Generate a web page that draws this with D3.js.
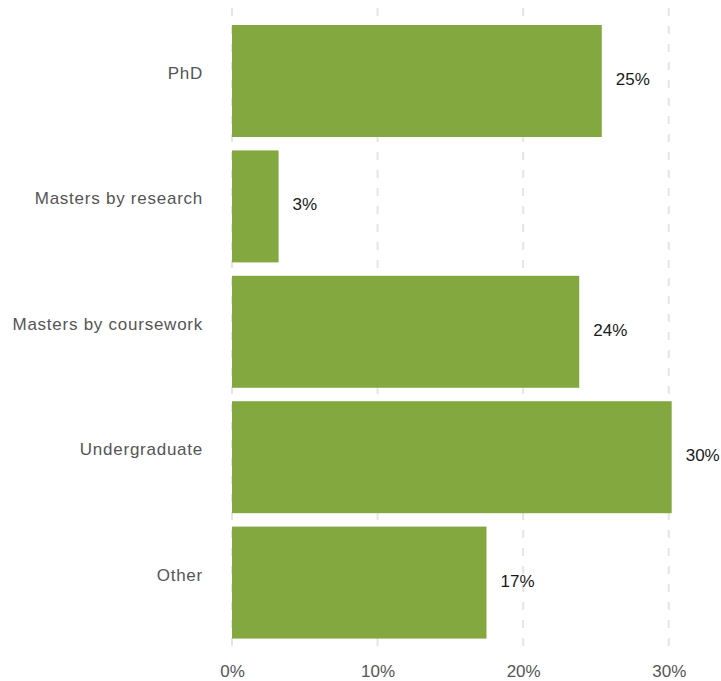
<!DOCTYPE html>
<html>
<head>
<meta charset="utf-8">
<script src="https://cdn.jsdelivr.net/npm/d3@7/dist/d3.min.js"></script>
<style>
  html, body { margin: 0; padding: 0; background: #fff; }
  svg { display: block; font-family: "Liberation Sans", Arial, Helvetica, sans-serif; }
</style>
</head>
<body>
<svg id="chart" width="721" height="681"></svg>
<script>
// Share of respondents by highest qualification level
const categories = ["PhD", "Masters by research", "Masters by coursework", "Undergraduate", "Other"];
const shares = [0.254, 0.032, 0.2385, 0.302, 0.1748];
const tickValues = [0, 0.1, 0.2, 0.3];

const svg = d3.select("#chart");
const left = 232, right = 727;

const x = d3.scaleLinear().domain([0, 0.34]).range([left, right]);
const y = d3.scaleBand().domain(categories).range([11.6, 652]).paddingInner(0.107).paddingOuter(0.107);

const pct = d3.format(".0%");

// Dashed vertical gridlines
svg.append("g")
  .selectAll("line")
  .data(tickValues)
  .join("line")
  .attr("x1", d => x(d)).attr("x2", d => x(d))
  .attr("y1", 8).attr("y2", 652)
  .attr("stroke", "#e5e5e5")
  .attr("stroke-width", 2)
  .attr("stroke-dasharray", "8,10");

// Bars
svg.append("g")
  .selectAll("rect")
  .data(categories)
  .join("rect")
  .attr("x", x(0))
  .attr("y", d => y(d))
  .attr("width", (d, i) => x(shares[i]) - x(0))
  .attr("height", y.bandwidth())
  .attr("fill", "#83a840");

// Value labels
svg.append("g")
  .selectAll("text")
  .data(categories)
  .join("text")
  .attr("x", (d, i) => x(shares[i]) + 14)
  .attr("y", d => y(d) + y.bandwidth() / 2 - 2)
  .attr("dy", "0.35em")
  .attr("font-size", 17)
  .attr("fill", "#1a1a1a")
  .text((d, i) => pct(shares[i]));

// Category axis
const yAxis = svg.append("g")
  .attr("transform", `translate(${left},0)`)
  .call(d3.axisLeft(y).tickSize(0).tickPadding(29));
yAxis.select(".domain").remove();
yAxis.selectAll("text")
  .attr("dy", "-0.12em")
  .attr("font-size", 17)
  .attr("font-family", "'Liberation Sans', Arial, sans-serif")
  .attr("letter-spacing", "0.75px")
  .attr("fill", "#555");

// Percentage axis
const xAxis = svg.append("g")
  .attr("transform", "translate(0,652)")
  .call(d3.axisBottom(x).tickValues(tickValues).tickFormat(pct).tickSize(0).tickPadding(13));
xAxis.select(".domain").remove();
xAxis.selectAll("text")
  .attr("font-size", 17)
  .attr("font-family", "'Liberation Sans', Arial, sans-serif")
  .attr("fill", "#555");
</script>
</body>
</html>
